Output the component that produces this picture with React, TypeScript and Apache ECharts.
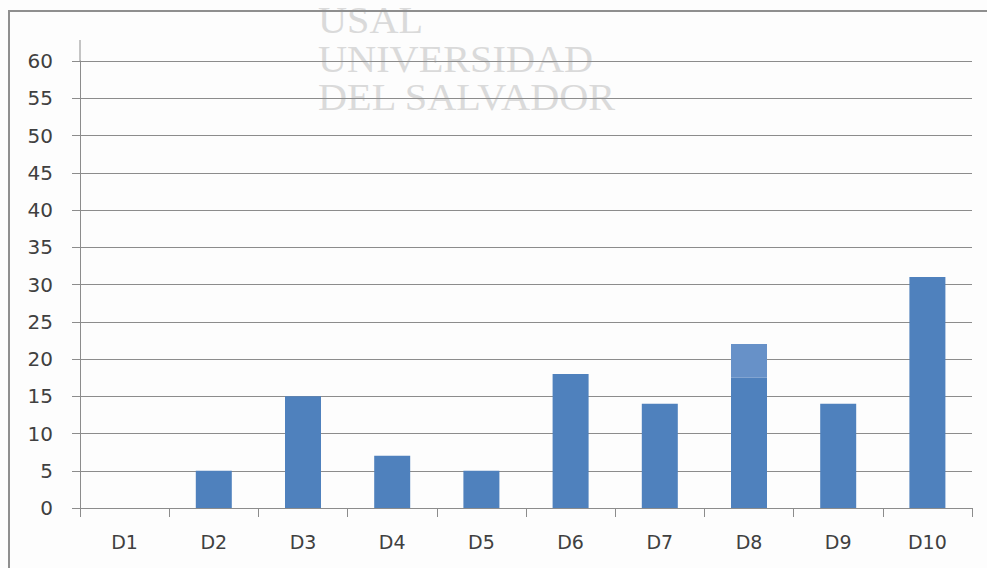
import React, { useEffect, useRef } from "react";
import * as echarts from "echarts";

const categories = ["D1", "D2", "D3", "D4", "D5", "D6", "D7", "D8", "D9", "D10"];
const baseValues = [0, 5, 15, 7, 5, 18, 14, 17.5, 14, 31];
const extraValues = [0, 0, 0, 0, 0, 0, 0, 4.5, 0, 0];
const watermarkLines = ["USAL", "UNIVERSIDAD", "DEL SALVADOR"];

export default function App() {
  const ref = useRef<HTMLDivElement>(null);
  useEffect(() => {
    if (!ref.current) return;
    const chart = echarts.init(ref.current, undefined, { renderer: "svg" });
    const gray = "#8c8c8c";
    const font = "DejaVu Sans";
    chart.setOption({
      animation: false,
      backgroundColor: "#fdfdfd",
      grid: { left: 80, right: 15, top: 61, bottom: 60 },
      xAxis: {
        type: "category",
        data: categories,
        axisLine: { lineStyle: { color: gray, width: 1 } },
        axisTick: { show: true, length: 9, lineStyle: { color: gray } },
        axisLabel: { color: "#404040", fontFamily: font, fontSize: 19, margin: 24 },
      },
      yAxis: {
        type: "value",
        min: 0,
        max: 60,
        interval: 5,
        axisLine: { show: true, lineStyle: { color: gray, width: 1 } },
        axisTick: { show: true, length: 8, lineStyle: { color: gray } },
        splitLine: { lineStyle: { color: gray, width: 1 } },
        axisLabel: { color: "#404040", fontFamily: font, fontSize: 20, margin: 27 },
      },
      series: [
        {
          type: "bar",
          stack: "s",
          data: baseValues,
          barWidth: 36,
          itemStyle: { color: "#4f81bd" },
        },
        {
          type: "bar",
          stack: "s",
          data: extraValues,
          barWidth: 36,
          itemStyle: { color: "#6791c8" },
        },
      ],
      graphic: [
        {
          type: "line",
          z: 10,
          shape: { x1: 80, y1: 40, x2: 80, y2: 61 },
          style: { stroke: gray, lineWidth: 1 },
        },
        {
          type: "polyline",
          z: 10,
          shape: { points: [[9, 568], [9, 11], [987, 11]] },
          style: { stroke: "#8f8f8f", lineWidth: 2, fill: "none" },
        },
        {
          type: "text",
          z: -10,
          x: 318,
          y: 1,
          scaleX: 1.06,
          style: {
            text: watermarkLines.join("\n"),
            fill: "#dadada",
            font: "38px 'Liberation Serif'",
            lineHeight: 38.5,
            verticalAlign: "top",
            align: "left",
          },
        },
      ],
    });
    return () => chart.dispose();
  }, []);
  return <div ref={ref} style={{ width: 987, height: 568, position: "absolute", left: 0, top: 0 }} />;
}
